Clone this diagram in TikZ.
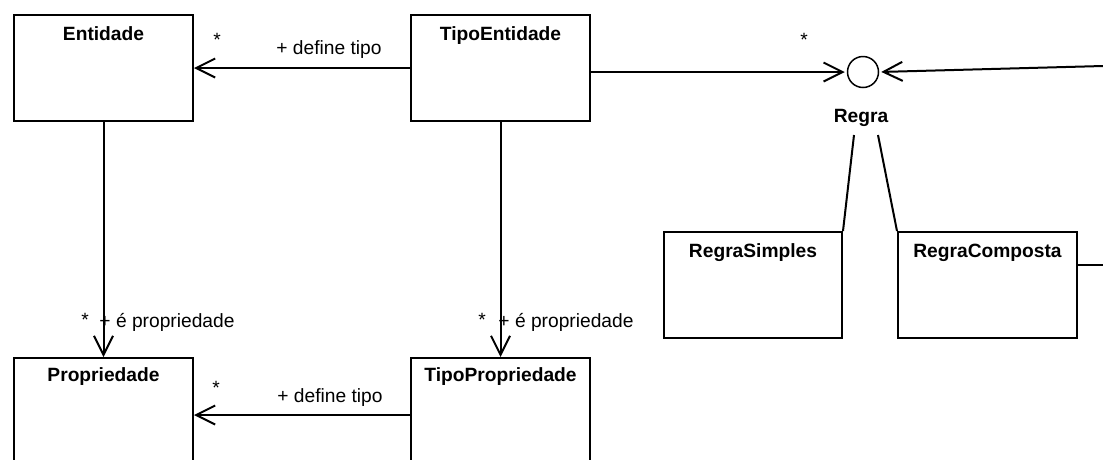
\documentclass[tikz,border=0pt]{standalone}
\usepackage{fontspec}
\setmainfont{Liberation Sans}
\usetikzlibrary{arrows.meta}

\begin{document}
\begin{tikzpicture}[x=1pt,y=-1pt,
	classe/.style={draw, line width=2pt, minimum width=179pt, minimum height=106pt, inner sep=0pt, anchor=north west},
	titulo/.style={font=\fontsize{19.2}{22}\selectfont\bfseries, anchor=base, inner sep=0pt},
	rotulo/.style={font=\fontsize{19.2}{22}\selectfont, anchor=base, inner sep=0pt},
	linha/.style={line width=2pt},
	assoc/.style={line width=2pt, -{Straight Barb[length=19pt,width=19pt,line width=2pt]}}]

	\useasboundingbox (0,0) rectangle (1103,459);

	% Classes
	\node[classe] (ent) at (13,14) {};
	\node[classe] (tipoent) at (410,14) {};
	\node[classe] (prop) at (13,357) {};
	\node[classe] (tipoprop) at (410,357) {};
	\node[classe, minimum width=178pt] (simples) at (663,231) {};
	\node[classe] (composta) at (897,231) {};

	\node[titulo] (entT) at ([yshift=-26pt]ent.north) {Entidade};
	\node[titulo] (tipoentT) at ([yshift=-26pt]tipoent.north) {TipoEntidade};
	\node[titulo] (propT) at ([yshift=-24pt]prop.north) {Propriedade};
	\node[titulo] (tipopropT) at ([yshift=-24pt]tipoprop.north) {TipoPropriedade};
	\node[titulo] (simplesT) at ([yshift=-26pt]simples.north) {RegraSimples};
	\node[titulo] (compostaT) at ([yshift=-26pt]composta.north) {RegraComposta};

	% Interface Regra
	\node[circle, draw, line width=1.5pt, minimum size=31pt, inner sep=0pt] (regra) at (863,72) {};
	\node[titulo] (regraT) at (861,122) {Regra};
	\coordinate (r1) at (854,135);
	\coordinate (r2) at (878,135);
	\coordinate (fora) at (1103,66);
	\coordinate (fora2) at (1103,265);

	% Associations
	\draw[assoc] (tipoent.west) -- (ent.east);
	\draw[assoc] (ent.south) -- (prop.north);
	\draw[assoc] (tipoent.south) -- (tipoprop.north);
	\draw[assoc] ([yshift=-58pt]tipoprop.north west) -- ([yshift=-58pt]prop.north east);
	\draw[assoc, shorten >=2pt] (tipoent.east |- regra.west) -- (regra.west);
	\draw[assoc, shorten >=2pt] (fora) -- (regra.east);

	\draw[linha] (r1) -- (simples.north east);
	\draw[linha] (r2) -- (composta.north west);
	\draw[linha] (composta.east |- fora2) -- (fora2);

	% Labels
	\node[rotulo] (m1) at (217,46) {*};
	\node[rotulo] (d1) at (329,54) {+ define tipo};
	\node[rotulo] (m2) at (216,394) {*};
	\node[rotulo] (d2) at (330,402) {+ define tipo};
	\node[rotulo] (m3) at (85,326) {*};
	\node[rotulo] (p1) at (167,327) {+ é propriedade};
	\node[rotulo] (m4) at (482,326) {*};
	\node[rotulo] (p2) at (566,327) {+ é propriedade};
	\node[rotulo] (m5) at (804,46) {*};

\end{tikzpicture}
\end{document}
